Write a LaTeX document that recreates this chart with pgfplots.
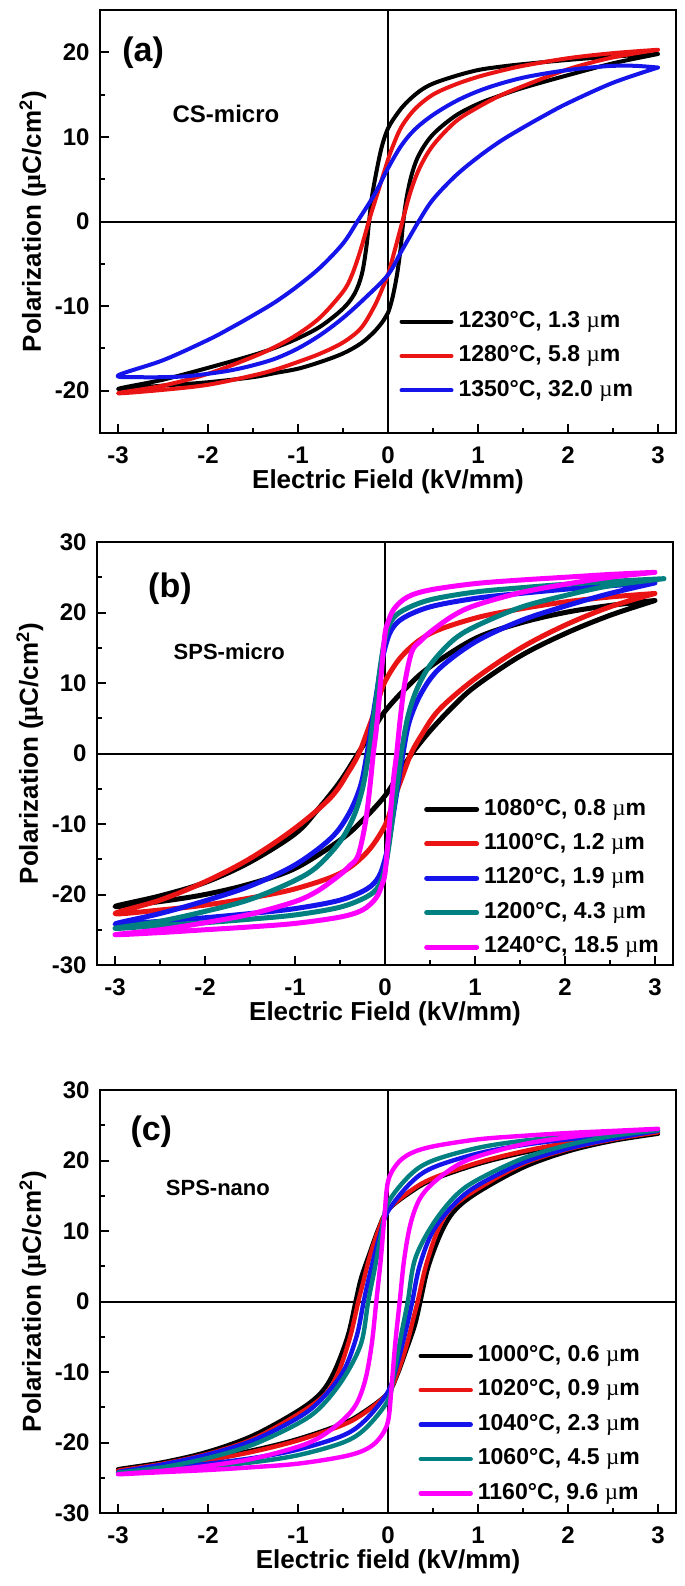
\documentclass[border=0pt]{standalone}
\usepackage{fontspec}
\setmainfont{Liberation Sans}
\newfontfamily\symf{Liberation Serif}
\usepackage{pgfplots}
\pgfplotsset{compat=1.18}

\definecolor{cred}{RGB}{235,20,20}
\definecolor{cblue}{RGB}{20,20,235}
\definecolor{cteal}{RGB}{0,128,128}
\definecolor{cmag}{RGB}{255,0,255}

\pgfplotsset{
  hyst/.style={
    scale only axis, width=288pt, height=211.5pt,
    xmin=-3.2, xmax=3.2,
    xtick={-3,...,3}, xticklabels={-3,-2,-1,0,1,2,3},
    minor x tick num=1, minor y tick num=1,
    tick align=inside, tick pos=left,
    major tick length=4.7pt, minor tick length=2.4pt,
    every tick/.style={black, line width=1pt},
    axis line style={line width=1.2pt},
    ticklabel style={font=\fontsize{12}{12}\selectfont\bfseries, inner sep=0pt},
    xticklabel style={anchor=center, yshift=-11pt},
    yticklabel style={anchor=east, xshift=-5pt},
    label style={font=\fontsize{13}{13}\selectfont\bfseries},
    xlabel style={at={(axis description cs:0.5,-0.1158)}, anchor=center},
    ylabel style={at={(axis description cs:-0.1163,0.5)}, anchor=center},
    xlabel={Electric Field (kV/mm)},
    ylabel={Polarization ({\symf µ}C/cm\textsuperscript{2})},
    legend cell align=left,
    legend image code/.code={\draw[#1] (0pt,0pt) -- (25pt,0pt);},
    legend style={draw=none, fill=none, inner sep=0pt, outer sep=0pt, anchor=west,
      font=\fontsize{11.5}{11.5}\selectfont\bfseries,
      nodes={inner sep=0.5pt, text height=8.2pt, text depth=2.5pt},
      column sep=2pt},
    every axis plot/.append style={smooth, tension=0.55, line join=round, line cap=round},
  }
}
\newcommand{\um}{{\symf\mdseries µ}m}

\begin{document}
\begin{tikzpicture}
\path[use as bounding box] (-50pt,5pt) rectangle (292.5pt,-788pt);

% (a) CS-micro
\begin{axis}[hyst, at={(0pt,0pt)}, anchor=north west,
  ymin=-25, ymax=25, ytick={-20,-10,...,20}, yticklabels={-20,-10,0,10,20},
  legend style={at={(axis description cs:0.520,0.182)}, row sep=5.5pt}]
\draw[line width=1pt] (axis cs:-3.2,0) -- (axis cs:3.2,0);
\draw[line width=1pt] (axis cs:0,-25) -- (axis cs:0,25);
\addplot[black, line width=2pt] coordinates {
(3,19.8) (2.5,19.5) (2,19.1) (1.5,18.6) (1.25,18.3) (1,17.9) (0.75,17.2) (0.5,16.3) (0.35,15.4) (0.2,14.0)
(0.1,12.7) (0,11.0) (-0.07,8.8) (-0.13,5.8) (-0.18,2.8) (-0.21,0) (-0.24,-3) (-0.29,-6.2) (-0.37,-8.5)
(-0.5,-10.3) (-0.75,-12.4) (-1,-13.8) (-1.25,-14.9) (-1.5,-15.8) (-2,-17.3) (-2.5,-18.7) (-3,-19.8)
(-2.5,-19.4) (-2,-19.0) (-1.5,-18.4) (-1.25,-17.9) (-1,-17.4) (-0.75,-16.6) (-0.5,-15.6) (-0.3,-14.4)
(-0.15,-13.0) (-0.05,-11.7) (0,-10.8) (0.05,-9.0) (0.1,-6.3) (0.14,-3.2) (0.17,0) (0.21,3.0) (0.27,5.8)
(0.35,8.0) (0.5,10.3) (0.75,12.5) (1,13.9) (1.25,14.9) (1.5,15.8) (2,17.3) (2.5,18.7) (3,19.8)};
\addlegendentry{1230°C, 1.3 \um}
\addplot[cred, line width=2pt] coordinates {
(3,20.3) (2.5,19.9) (2,19.3) (1.5,18.4) (1.25,17.8) (1,17.1) (0.75,16.2) (0.5,15.0) (0.3,13.3) (0.15,11.2)
(0.05,8.8) (0,7.3) (-0.1,3.9) (-0.2,0.5) (-0.3,-3.2) (-0.4,-6.3) (-0.5,-8.3) (-0.75,-11.3) (-1,-13.3)
(-1.25,-14.8) (-1.5,-16.0) (-2,-18.0) (-2.5,-19.4) (-3,-20.3)
(-2.5,-19.9) (-2,-19.3) (-1.5,-18.2) (-1.25,-17.5) (-1,-16.6) (-0.75,-15.6) (-0.5,-14.3) (-0.3,-12.6)
(-0.15,-10.0) (-0.05,-7.6) (0,-6.3) (0.08,-3.2) (0.16,0) (0.25,3.5) (0.35,6.3) (0.5,9.0) (0.75,11.8)
(1,13.5) (1.25,14.9) (1.5,16.0) (2,18.0) (2.5,19.4) (3,20.3)};
\addlegendentry{1280°C, 5.8 \um}
\addplot[cblue, line width=2pt] coordinates {
(3,18.2) (2.75,18.4) (2.5,18.4) (2.25,18.2) (2,17.9) (1.75,17.5) (1.5,17.0) (1.25,16.3) (1,15.4) (0.75,14.2)
(0.5,12.6) (0.3,10.9) (0.15,9.0) (0,6.3) (-0.15,3.2) (-0.34,0) (-0.5,-2.6) (-0.75,-5.4) (-1,-7.6)
(-1.25,-9.5) (-1.5,-11.1) (-1.75,-12.6) (-2,-14.0) (-2.5,-16.4) (-3,-18.2)
(-2.75,-18.4) (-2.5,-18.4) (-2.25,-18.3) (-2,-18.0) (-1.75,-17.6) (-1.5,-17.0) (-1.25,-16.2) (-1,-15.0)
(-0.75,-13.4) (-0.5,-11.4) (-0.25,-9.0) (0,-6.3) (0.15,-3.5) (0.34,0) (0.5,2.6) (0.75,5.4) (1,7.6)
(1.25,9.5) (1.5,11.1) (1.75,12.6) (2,14.0) (2.5,16.4) (3,18.2)};
\addlegendentry{1350°C, 32.0 \um}
\node[font=\fontsize{17}{17}\selectfont\bfseries] at (axis cs:-2.72,20) {(a)};
\node[font=\fontsize{12}{12}\selectfont\bfseries] at (axis cs:-1.8,12.7) {CS-micro};
\end{axis}

% (b) SPS-micro
\begin{axis}[hyst, at={(-1.5pt,-266pt)}, anchor=north west,
  ymin=-30, ymax=30, ytick={-30,-20,...,30}, yticklabels={-30,-20,-10,0,10,20,30},
  legend style={at={(axis description cs:0.568,0.205)}, row sep=5.5pt}]
\draw[line width=1pt] (axis cs:-3.2,0) -- (axis cs:3.2,0);
\draw[line width=1pt] (axis cs:0,-30) -- (axis cs:0,30);
\addplot[black, line width=2.5pt] coordinates {
(3,21.7) (2.5,21.0) (2,20.0) (1.5,18.5) (1,16.3) (0.5,12.3) (0.25,9.5) (0,6) (-0.15,3) (-0.3,0)
(-0.5,-4.0) (-0.75,-8.0) (-1,-11.4) (-1.5,-15.4) (-2,-18.3) (-2.5,-20.2) (-3,-21.7)
(-2.5,-21.0) (-2,-20.0) (-1.5,-18.5) (-1,-16.3) (-0.5,-12.3) (-0.25,-9.5) (0,-6) (0.15,-3) (0.3,0)
(0.5,3.2) (0.75,6.6) (1,9.5) (1.5,13.8) (2,17.0) (2.5,19.6) (3,21.7)};
\addlegendentry{1080°C, 0.8 \um}
\addplot[cred, line width=2.5pt] coordinates {
(3,22.7) (2.5,22.2) (2,21.5) (1.5,20.5) (1,19.2) (0.5,17) (0.2,14) (0,10.2) (-0.1,6.5) (-0.2,3) (-0.29,0)
(-0.4,-2.5) (-0.6,-6.2) (-1,-10.6) (-1.5,-14.9) (-2,-18.2) (-2.5,-20.8) (-3,-22.7)
(-2.5,-22.2) (-2,-21.5) (-1.5,-20.5) (-1,-19.2) (-0.5,-17) (-0.2,-14) (0,-10.2) (0.1,-6.5) (0.2,-3) (0.29,0)
(0.4,2.5) (0.6,6.2) (1,10.6) (1.5,14.9) (2,18.2) (2.5,20.8) (3,22.7)};
\addlegendentry{1100°C, 1.2 \um}
\addplot[cblue, line width=2.5pt] coordinates {
(3,24.2) (2.5,23.8) (2,23.3) (1.5,22.7) (1,22) (0.5,20.8) (0.2,19.2) (0.07,17.5) (0,15) (-0.05,12) (-0.1,8)
(-0.15,4) (-0.2,0) (-0.27,-4.5) (-0.4,-8.5) (-0.6,-12) (-1,-15.8) (-1.5,-18.8) (-2,-20.9) (-2.5,-22.7) (-3,-24.2)
(-2.5,-23.8) (-2,-23.3) (-1.5,-22.7) (-1,-22) (-0.5,-20.8) (-0.2,-19.2) (-0.07,-17.5) (0,-15) (0.05,-12) (0.1,-8)
(0.15,-4) (0.2,0) (0.27,4.5) (0.4,8.5) (0.6,12) (1,15.8) (1.5,18.8) (2,20.9) (2.5,22.7) (3,24.2)};
\addlegendentry{1120°C, 1.9 \um}
\addplot[cteal, line width=2.5pt] coordinates {
(3.1,24.8) (2.5,24.4) (2,24) (1.5,23.5) (1,22.9) (0.5,21.8) (0.2,20.3) (0.07,18.8) (0,16.3) (-0.05,12.5)
(-0.1,7.5) (-0.15,3) (-0.18,0) (-0.25,-5) (-0.35,-9) (-0.5,-12.5) (-0.75,-16) (-1,-18) (-1.5,-20.7) (-2,-22.4)
(-2.5,-23.8) (-3,-24.8)
(-2.5,-24.4) (-2,-24) (-1.5,-23.5) (-1,-22.9) (-0.5,-21.8) (-0.2,-20.3) (-0.07,-18.8) (0,-16.3) (0.05,-12.5)
(0.1,-7.5) (0.15,-3) (0.18,0) (0.25,5) (0.35,9) (0.5,12.5) (0.75,16) (1,18) (1.5,20.7) (2,22.4) (2.5,23.8) (3.1,24.8)};
\addlegendentry{1200°C, 4.3 \um}
\addplot[cmag, line width=2.5pt] coordinates {
(3,25.7) (2.5,25.4) (2,25.0) (1.5,24.6) (1,24.1) (0.5,23.2) (0.25,22.2) (0.1,20.5) (0.03,18.5) (0,17)
(-0.03,13) (-0.07,7) (-0.1,3) (-0.13,0) (-0.17,-5) (-0.22,-10) (-0.3,-14.5) (-0.4,-16) (-0.5,-17.2)
(-0.75,-19.5) (-1,-21) (-1.5,-22.8) (-2,-24) (-2.5,-25) (-3,-25.7)
(-2.5,-25.4) (-2,-25.0) (-1.5,-24.6) (-1,-24.1) (-0.5,-23.2) (-0.25,-22.2) (-0.1,-20.5) (-0.03,-18.5) (0,-17)
(0.03,-13) (0.07,-7) (0.1,-3) (0.13,0) (0.17,5) (0.22,10) (0.3,14.5) (0.4,16) (0.5,17.2)
(0.75,19.5) (1,21) (1.5,22.8) (2,24) (2.5,25) (3,25.7)};
\addlegendentry{1240°C, 18.5 \um}
\node[font=\fontsize{17}{17}\selectfont\bfseries] at (axis cs:-2.39,23.4) {(b)};
\node[font=\fontsize{11}{11}\selectfont\bfseries] at (axis cs:-1.73,14.4) {SPS-micro};
\end{axis}

% (c) SPS-nano
\begin{axis}[hyst, at={(0pt,-540pt)}, anchor=north west,
  ymin=-30, ymax=30, ytick={-30,-20,...,30}, yticklabels={-30,-20,-10,0,10,20,30},
  xlabel={Electric field (kV/mm)},
  legend style={at={(axis description cs:0.553,0.209)}, row sep=5.5pt}]
\draw[line width=1pt] (axis cs:-3.2,0) -- (axis cs:3.2,0);
\draw[line width=1pt] (axis cs:0,-30) -- (axis cs:0,30);
\addplot[black, line width=2.2pt] coordinates {
(3,23.8) (2.5,23.1) (2,22.3) (1.5,21.1) (1,19.5) (0.5,17.3) (0.25,15.5) (0,13) (-0.1,10.5) (-0.2,7)
(-0.3,3.3) (-0.36,0) (-0.45,-5) (-0.6,-10) (-0.75,-13) (-1,-15.5) (-1.5,-19) (-2,-21.3) (-2.5,-22.8) (-3,-23.8)
(-2.5,-23.1) (-2,-22.3) (-1.5,-21.1) (-1,-19.5) (-0.5,-17.3) (-0.25,-15.5) (0,-13) (0.1,-10.5) (0.2,-7)
(0.3,-3.3) (0.36,0) (0.45,5) (0.6,10) (0.75,13) (1,15.5) (1.5,19) (2,21.3) (2.5,22.8) (3,23.8)};
\addlegendentry{1000°C, 0.6 \um}
\addplot[cred, line width=2.2pt] coordinates {
(3,24) (2.5,23.3) (2,22.5) (1.5,21.3) (1,19.7) (0.5,17.5) (0.25,15.7) (0,13) (-0.1,10.3) (-0.2,6.5)
(-0.28,2.5) (-0.33,0) (-0.42,-5) (-0.55,-10) (-0.7,-13.2) (-1,-16) (-1.5,-19.5) (-2,-21.6) (-2.5,-23) (-3,-24)
(-2.5,-23.3) (-2,-22.5) (-1.5,-21.3) (-1,-19.7) (-0.5,-17.5) (-0.25,-15.7) (0,-13) (0.1,-10.3) (0.2,-6.5)
(0.28,-2.5) (0.33,0) (0.42,5) (0.55,10) (0.7,13.2) (1,16) (1.5,19.5) (2,21.6) (2.5,23) (3,24)};
\addlegendentry{1020°C, 0.9 \um}
\addplot[cblue, line width=2.2pt] coordinates {
(3,24.2) (2.5,23.6) (2,23) (1.5,22.2) (1,21) (0.5,19) (0.25,16.8) (0,12.8) (-0.1,9) (-0.2,4) (-0.27,0)
(-0.35,-5) (-0.5,-10) (-0.75,-14) (-1,-16.5) (-1.5,-19.7) (-2,-21.7) (-2.5,-23.1) (-3,-24.2)
(-2.5,-23.6) (-2,-23) (-1.5,-22.2) (-1,-21) (-0.5,-19) (-0.25,-16.8) (0,-12.8) (0.1,-9) (0.2,-4) (0.27,0)
(0.35,5) (0.5,10) (0.75,14) (1,16.5) (1.5,19.7) (2,21.7) (2.5,23.1) (3,24.2)};
\addlegendentry{1040°C, 2.3 \um}
\addplot[cteal, line width=2.2pt] coordinates {
(3,24.3) (2.5,23.9) (2,23.4) (1.5,22.8) (1,21.8) (0.5,20) (0.25,18) (0,14) (-0.07,10) (-0.15,4.5) (-0.22,0)
(-0.3,-6) (-0.5,-11) (-0.75,-15) (-1,-17.3) (-1.5,-20.3) (-2,-22.2) (-2.5,-23.5) (-3,-24.3)
(-2.5,-23.9) (-2,-23.4) (-1.5,-22.8) (-1,-21.8) (-0.5,-20) (-0.25,-18) (0,-14) (0.07,-10) (0.15,-4.5) (0.22,0)
(0.3,6) (0.5,11) (0.75,15) (1,17.3) (1.5,20.3) (2,22.2) (2.5,23.5) (3,24.3)};
\addlegendentry{1060°C, 4.5 \um}
\addplot[cmag, line width=2.2pt] coordinates {
(3,24.5) (2.5,24.2) (2,23.9) (1.5,23.5) (1,23) (0.5,22) (0.25,21) (0.1,19.5) (0,17) (-0.04,12) (-0.08,6)
(-0.13,0) (-0.18,-6) (-0.25,-11) (-0.35,-14.5) (-0.5,-16.8) (-0.75,-19.2) (-1,-20.6) (-1.5,-22.3) (-2,-23.3)
(-2.5,-24) (-3,-24.5)
(-2.5,-24.2) (-2,-23.9) (-1.5,-23.5) (-1,-23) (-0.5,-22) (-0.25,-21) (-0.1,-19.5) (0,-17) (0.04,-12) (0.08,-6)
(0.13,0) (0.18,6) (0.25,11) (0.35,14.5) (0.5,16.8) (0.75,19.2) (1,20.6) (1.5,22.3) (2,23.3) (2.5,24) (3,24.5)};
\addlegendentry{1160°C, 9.6 \um}
\node[font=\fontsize{17}{17}\selectfont\bfseries] at (axis cs:-2.63,24.1) {(c)};
\node[font=\fontsize{11}{11}\selectfont\bfseries] at (axis cs:-1.89,16.1) {SPS-nano};
\end{axis}
\end{tikzpicture}
\end{document}
